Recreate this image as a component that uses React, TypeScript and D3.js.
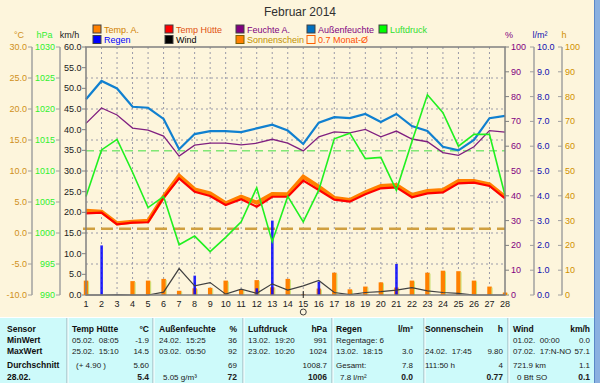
import React from 'react';
import * as d3 from 'd3';

// ---------- data ----------
const days = [1, 2, 3, 4, 5, 6, 7, 8, 9, 10, 11, 12, 13, 14, 15, 16, 17, 18, 19, 20, 21, 22, 23, 24, 25, 26, 27, 28];
const tempA = [3.6, 3.43, 1.56, 1.82, 1.98, 5.85, 9.24, 7.04, 6.4, 4.79, 5.85, 4.89, 6.29, 6.24, 9.08, 7.47, 5.65, 5.32, 6.56, 7.58, 7.74, 6.13, 6.77, 6.94, 8.39, 8.39, 7.85, 5.85];
const tempHuette = [3.18, 3.27, 1.4, 1.66, 1.73, 5.69, 8.82, 6.66, 5.97, 4.52, 5.44, 4.24, 5.85, 5.85, 8.44, 6.94, 5.38, 5.05, 6.24, 7.21, 7.37, 5.76, 6.4, 6.56, 8.02, 8.11, 7.58, 5.6];
const feuchteA = [69.2, 75.4, 72.6, 67.3, 66.5, 64.1, 56.0, 60.4, 61.2, 61.2, 60.5, 61.2, 62.8, 61.2, 58.1, 63.8, 65.8, 65.4, 66.8, 63.8, 66.1, 62.9, 61.8, 57.4, 56.3, 59.8, 66.3, 65.7];
const aussenfeuchte = [78.9, 86.3, 83.3, 75.9, 75.5, 71.0, 58.8, 64.9, 66.1, 66.1, 65.7, 67.2, 68.7, 66.3, 60.9, 69.5, 71.7, 71.3, 73.0, 69.8, 73.0, 68.1, 66.1, 59.8, 58.3, 62.5, 71.3, 72.2];
const luftdruck = [1005.9, 1013.4, 1015.1, 1009.8, 1004.1, 1005.9, 998.1, 999.5, 997.0, 999.3, 1001.8, 1007.3, 998.6, 1005.9, 1001.8, 1006.9, 1015.2, 1016.1, 1012.0, 1012.2, 1006.9, 1014.7, 1022.3, 1019.4, 1014.0, 1015.9, 1015.9, 1006.1];
const wind = [0, 0, 0.1, 0, 0, 0.7, 6.4, 2.2, 3.0, 0.2, 1.4, 0.4, 2.7, 1.2, 2.2, 3.5, 0.6, 0.1, 0.6, 0.8, 1.2, 1.8, 1.0, 0.6, 0.4, 0, 0, 0];
const regen = [0, 2.0, 0, 0, 0, 0, 0, 0.78, 0, 0, 0, 0.27, 3.0, 0, 0, 0.54, 0, 0, 0, 0, 1.25, 0, 0, 0, 0, 0, 0, 0];
const sonnenschein = [5.8, 0, 0, 5.6, 5.8, 6.5, 1.7, 2.7, 2.9, 5.8, 2.3, 6.0, 3.1, 6.5, 0.4, 2.6, 9.0, 2.3, 3.4, 5.1, 3.0, 5.8, 9.0, 9.8, 9.6, 5.8, 3.4, 1.0];
const monatMittel = 0.7;
const normalDruck = 1013.25;

const tempTicks = [-10, -5, 0, 5, 10, 15, 20, 25, 30];
const druckTicks = [990, 995, 1000, 1005, 1010, 1015, 1020, 1025, 1030];
const windTicks = [0, 5, 10, 15, 20, 25, 30, 35, 40, 45, 50, 55, 60];
const feuchteTicks = [0, 10, 20, 30, 40, 50, 60, 70, 80, 90, 100];
const regenTicks = [0, 1, 2, 3, 4, 5, 6, 7, 8, 9, 10];
const sonneTicks = [0, 10, 20, 30, 40, 50, 60, 70, 80, 90, 100];

const title = 'Februar 2014';
const legendRow1 = ['Temp. A.', 'Temp Hütte', 'Feuchte A.', 'Außenfeuchte', 'Luftdruck'];
const legendRow2 = ['Regen', 'Wind', 'Sonnenschein', '0.7 Monat-Ø'];

const rowLabels = ['Sensor', 'MinWert', 'MaxWert', 'Durchschnitt', '28.02.'];
const colTitles = ['Temp Hütte', 'Außenfeuchte', 'Luftdruck', 'Regen', 'Sonnenschein', 'Wind'];
const colUnits = ['°C', '%', 'hPa', 'l/m²', 'h', 'km/h'];
const colTexts = [
  ['05.02.  08:05', '25.02.  15:10', '(+ 4.90 )', ''],
  ['24.02.  15:25', '03.02.  05:50', '', '5.05 g/m³'],
  ['13.02.  19:20', '23.02.  10:20', '', ''],
  ['Regentage: 6', '13.02.  18:15', 'Gesamt:', '7.8 l/m²'],
  ['', '24.02.  17:45', '111:50 h', ''],
  ['01.02.  00:00', '07.02.  17:N-NO', '721.9 km', '0 Bft SO'],
];
const colValues = [
  ['-1.9', '14.5', '5.60', '5.4'],
  ['36', '92', '69', '72'],
  ['991', '1024', '1008.7', '1006'],
  ['', '3.0', '7.8', '0.0'],
  ['', '9.80', '4', '0.77'],
  ['0.0', '57.1', '1.1', '0.1'],
];

// ---------- layout / style ----------
const L = 86, R = 505, T = 47, B = 295;
const BG = '#fdf5dc';
const FONT = "'Liberation Sans', Arial, sans-serif";
const legendX = [93, 165, 236, 307, 379];
const legendStyle1 = [
  { fill: '#ff8000', stroke: '#404040', text: '#d08000' },
  { fill: '#ff0000', stroke: '#404040', text: '#e05010' },
  { fill: '#800080', stroke: '#404040', text: '#800080' },
  { fill: '#0070c0', stroke: '#404040', text: '#800080' },
  { fill: '#00ff00', stroke: '#404040', text: '#30e030' },
];
const legendStyle2 = [
  { fill: '#0000ff', stroke: '#404040', text: '#0000ff' },
  { fill: '#000000', stroke: '#404040', text: '#000000' },
  { fill: '#ff8000', stroke: '#806000', text: '#c09000' },
  { fill: BG, stroke: '#ff6000', text: '#ff5000' },
];
const colLeft = [72, 159, 248, 336, 425, 513];
const colRight = [149, 237, 327, 413, 503, 590];
const rowBase = [332, 343, 354, 367.5, 380];
const seps = [67, 153, 243, 332, 424, 508];

export default function App() {
  const x = d3.scaleLinear().domain([1, 28]).range([L, R]);
  const yT = d3.scaleLinear().domain([-10, 30]).range([B, T]);
  const yP = d3.scaleLinear().domain([990, 1030]).range([B, T]);
  const yW = d3.scaleLinear().domain([0, 60]).range([B, T]);
  const yH = d3.scaleLinear().domain([0, 100]).range([B, T]);
  const yR = d3.scaleLinear().domain([0, 10]).range([B, T]);
  const yS = d3.scaleLinear().domain([0, 100]).range([B, T]);

  const mk = (sc: d3.ScaleLinear<number, number>) =>
    d3.line<number>().x((_, i) => x(days[i])).y((v) => sc(v));

  const gridH = tempTicks.slice(1, -1);
  const gridV = days.slice(1, -1);
  const axisCol = '#a0a0a0';

  return (
    <svg width={600} height={383} style={{ position: 'absolute', left: 0, top: 0, display: 'block' }} fontFamily={FONT}>
      <rect x={0} y={0} width={600} height={383} fill={BG} />
      {/* title */}
      <text x={300} y={16} textAnchor="middle" fontSize={12} fill="#303030">{title}</text>

      {/* legend */}
      {legendRow1.map((t, i) => (
        <g key={'l1' + i}>
          <rect x={legendX[i]} y={25} width={8} height={8} fill={legendStyle1[i].fill} stroke={legendStyle1[i].stroke} strokeWidth={1} />
          <text x={legendX[i] + 11} y={32.5} fontSize={9} fill={legendStyle1[i].text}>{t}</text>
        </g>
      ))}
      {legendRow2.map((t, i) => (
        <g key={'l2' + i}>
          <rect x={legendX[i]} y={35.5} width={8} height={8} fill={legendStyle2[i].fill} stroke={legendStyle2[i].stroke} strokeWidth={1} />
          <text x={legendX[i] + 11} y={43} fontSize={9} fill={legendStyle2[i].text}>{t}</text>
        </g>
      ))}

      {/* unit headers */}
      <text x={19} y={38} textAnchor="middle" fontSize={9} fill="#d09020">°C</text>
      <text x={44.5} y={38} textAnchor="middle" fontSize={9} fill="#30f030">hPa</text>
      <text x={69.5} y={38} textAnchor="middle" fontSize={9} fill="#202020">km/h</text>
      <text x={509} y={38} textAnchor="middle" fontSize={9} fill="#800080">%</text>
      <text x={540} y={38} textAnchor="middle" fontSize={9} fill="#1010b0">l/m²</text>
      <text x={564} y={38} textAnchor="middle" fontSize={9} fill="#d09000">h</text>

      {/* left axes */}
      <line x1={32} x2={32} y1={T} y2={B} stroke={axisCol} strokeWidth={1.5} />
      {tempTicks.map((v) => (
        <g key={'tt' + v}>
          <line x1={28} x2={32} y1={yT(v)} y2={yT(v)} stroke={axisCol} />
          <text x={27} y={yT(v) + 3} textAnchor="end" fontSize={9} fill="#d09020">{v.toFixed(1)}</text>
        </g>
      ))}
      <line x1={60} x2={60} y1={T} y2={B} stroke={axisCol} strokeWidth={1.5} />
      {druckTicks.map((v) => (
        <g key={'pt' + v}>
          <line x1={56} x2={60} y1={yP(v)} y2={yP(v)} stroke={axisCol} />
          <text x={55} y={yP(v) + 3} textAnchor="end" fontSize={9} fill="#30f030">{v}</text>
        </g>
      ))}
      {windTicks.map((v) => (
        <g key={'wt' + v}>
          <line x1={82} x2={86} y1={yW(v)} y2={yW(v)} stroke="#808080" />
          <text x={81.5} y={yW(v) + 3} textAnchor="end" fontSize={9} fill="#202020">{v.toFixed(1)}</text>
        </g>
      ))}

      {/* right axes */}
      {feuchteTicks.map((v) => (
        <g key={'ft' + v}>
          <line x1={505} x2={509} y1={yH(v)} y2={yH(v)} stroke="#808080" />
          <text x={511} y={yH(v) + 3} fontSize={9} fill="#800080">{v}</text>
        </g>
      ))}
      <line x1={534} x2={534} y1={T} y2={B} stroke={axisCol} strokeWidth={1.5} />
      {regenTicks.map((v) => (
        <g key={'rt' + v}>
          <line x1={530} x2={534} y1={yR(v)} y2={yR(v)} stroke={axisCol} />
          <text x={537} y={yR(v) + 3} fontSize={9} fill="#1010b0">{v.toFixed(1)}</text>
        </g>
      ))}
      <line x1={562} x2={562} y1={T} y2={B} stroke={axisCol} strokeWidth={1.5} />
      {sonneTicks.map((v) => (
        <g key={'st' + v}>
          <line x1={558} x2={562} y1={yS(v)} y2={yS(v)} stroke={axisCol} />
          <text x={565} y={yS(v) + 3} fontSize={9} fill="#d09000">{v}</text>
        </g>
      ))}

      {/* grid */}
      {gridH.map((v) => (
        <line key={'gh' + v} x1={L} x2={R} y1={yT(v)} y2={yT(v)} stroke="#9a9aa8" strokeDasharray="2,3" />
      ))}
      {gridV.map((d) => (
        <line key={'gv' + d} x1={x(d)} x2={x(d)} y1={T} y2={B} stroke="#9a9aa8" strokeDasharray="2,3" />
      ))}

      {/* reference lines */}
      <line x1={L} x2={R} y1={yP(normalDruck)} y2={yP(normalDruck)} stroke="#40e040" strokeWidth={1} strokeDasharray="8,5" />
      <line x1={83} x2={R} y1={yT(monatMittel)} y2={yT(monatMittel)} stroke="#d0a040" strokeWidth={2.5} strokeDasharray="12,6" />

      {/* sunshine bars */}
      {sonnenschein.map((v, i) =>
        v > 0 ? (
          <g key={'sb' + i}>
            <rect x={x(days[i]) - 2.2} y={yS(v)} width={4.5} height={B - yS(v)} fill="#ff8000" />
            <line x1={x(days[i]) + 2.6} x2={x(days[i]) + 2.6} y1={yS(v) + 1} y2={B} stroke="#c8e070" strokeWidth={1} />
          </g>
        ) : null
      )}
      {/* rain bars */}
      {regen.map((v, i) =>
        v > 0 ? (
          <rect key={'rb' + i} x={x(days[i]) - 1.2} y={yR(v)} width={2.6} height={B - yR(v)} fill="#0000ff" fillOpacity={0.85} />
        ) : null
      )}

      {/* wind */}
      <path d={mk(yW)(wind) || ''} fill="none" stroke="#404040" strokeWidth={1.2} />

      {/* humidity */}
      <path d={mk(yH)(feuchteA) || ''} fill="none" stroke="#802080" strokeWidth={1.3} />
      <path d={mk(yH)(aussenfeuchte) || ''} fill="none" stroke="#1080d0" strokeWidth={2.2} />

      {/* temperatures */}
      <path d={mk(yT)(tempA) || ''} fill="none" stroke="#ff8000" strokeWidth={4} strokeLinejoin="miter" strokeMiterlimit={10} />
      <path d={mk(yT)(tempHuette) || ''} fill="none" stroke="#ff0000" strokeWidth={2.2} />

      {/* pressure */}
      <path d={mk(yP)(luftdruck) || ''} fill="none" stroke="#20f020" strokeWidth={1.6} />

      {/* frame */}
      <rect x={L} y={T} width={R - L} height={B - T} fill="none" stroke="#808080" strokeWidth={1.5} />

      {/* day labels */}
      {days.map((d) => (
        <text key={'d' + d} x={x(d)} y={307} textAnchor="middle" fontSize={9} fill="#202020">{d}</text>
      ))}
      <line x1={x(15)} x2={x(15)} y1={291} y2={298} stroke="#202020" strokeWidth={1} />
      <circle cx={x(15)} cy={312} r={3} fill="none" stroke="#404040" strokeWidth={1} />

      {/* table */}
      <rect x={0} y={317} width={600} height={66} fill="#cdfafa" />
      <line x1={0} x2={600} y1={317.5} y2={317.5} stroke="#ffffff" />
      {seps.map((s) => (
        <g key={'sp' + s}>
          <line x1={s} x2={s} y1={318} y2={383} stroke="#98b0b8" />
          <line x1={s + 1} x2={s + 1} y1={318} y2={383} stroke="#ffffff" />
        </g>
      ))}
      {rowLabels.map((t, r) => (
        <text key={'rl' + r} x={7} y={rowBase[r]} fontSize={8.5} fontWeight="bold" fill="#101010">{t}</text>
      ))}
      {colTitles.map((t, c) => (
        <g key={'ct' + c}>
          <text x={colLeft[c]} y={rowBase[0]} fontSize={8.5} fontWeight="bold" fill="#101010">{t}</text>
          <text x={colRight[c]} y={rowBase[0]} textAnchor="end" fontSize={8.5} fontWeight="bold" fill="#101010">{colUnits[c]}</text>
          {colTexts[c].map((s, r) => (
            <text key={'tx' + r} x={colLeft[c] + (r === 3 ? 4 : 0) + (c === 0 && r === 2 ? 4 : 0)} y={rowBase[r + 1]} fontSize={8} fill="#202020" style={{ whiteSpace: 'pre' }}>{s}</text>
          ))}
          {colValues[c].map((s, r) => (
            <text key={'vx' + r} x={colRight[c]} y={rowBase[r + 1]} textAnchor="end" fontSize={r === 3 ? 8.5 : 8} fontWeight={r === 3 ? 'bold' : 'normal'} fill="#202020">{s}</text>
          ))}
        </g>
      ))}

      {/* window border */}
      <rect x={594} y={0} width={6} height={383} fill="#8ab0e0" />
      <line x1={594.5} x2={594.5} y1={0} y2={383} stroke="#5a88c8" />
    </svg>
  );
}
